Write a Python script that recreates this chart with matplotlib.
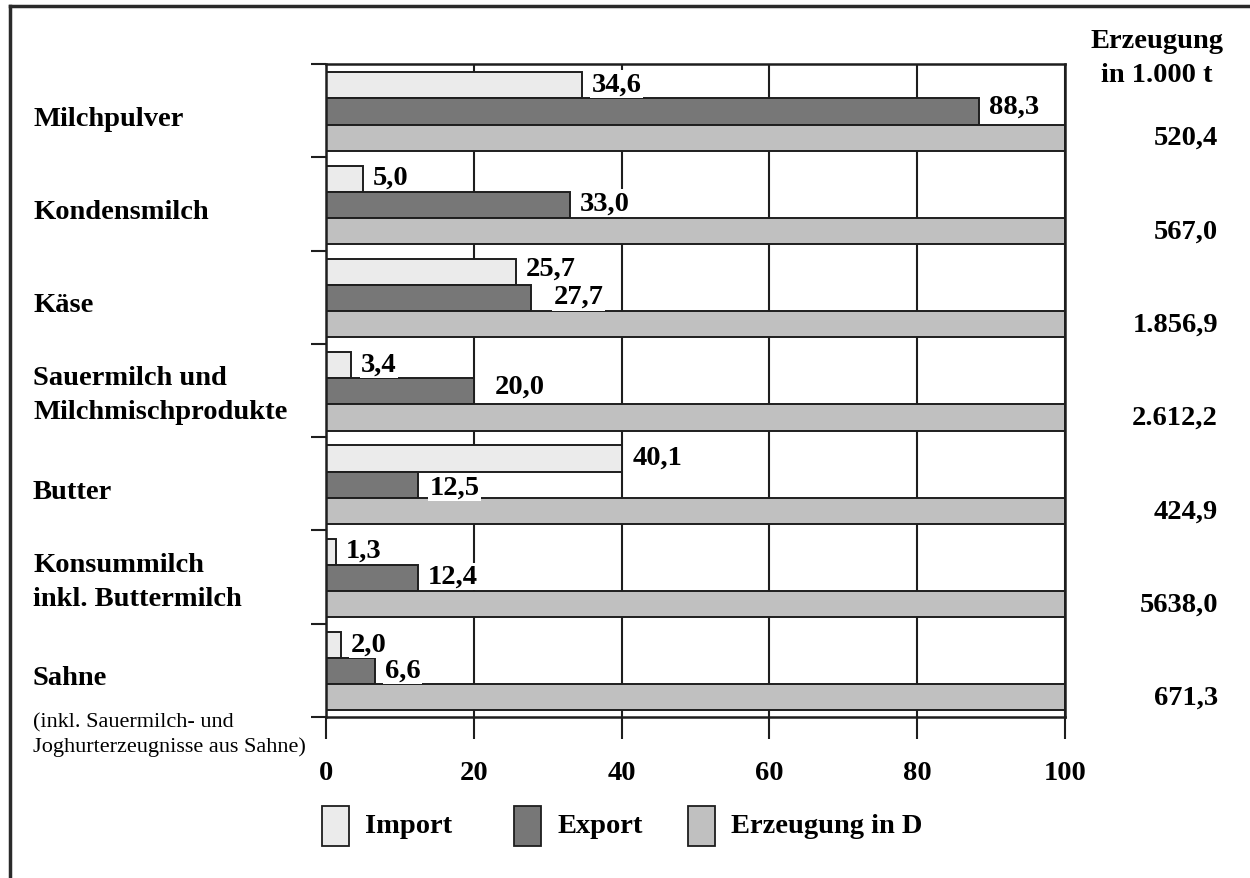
import matplotlib
matplotlib.use("Agg")
import matplotlib.pyplot as plt
from matplotlib.patches import Rectangle
from matplotlib.lines import Line2D

plt.rcParams['font.family'] = ['Liberation Serif', 'DejaVu Serif']

# --- data -------------------------------------------------------------
categories = ["Milchpulver", "Kondensmilch", "Käse",
              "Sauermilch und\nMilchmischprodukte", "Butter",
              "Konsummilch\ninkl. Buttermilch", "Sahne"]
import_pct = [34.6, 5.0, 25.7, 3.4, 40.1, 1.3, 2.0]
export_pct = [88.3, 33.0, 27.7, 20.0, 12.5, 12.4, 6.6]
erzeugung_pct = [100, 100, 100, 100, 100, 100, 100]
erzeugung_kt = ["520,4", "567,0", "1.856,9", "2.612,2", "424,9", "5638,0", "671,3"]
series_names = ["Import", "Export", "Erzeugung in D"]
x_ticks = [0, 20, 40, 60, 80, 100]
sahne_note = "(inkl. Sauermilch- und\nJoghurterzeugnisse aus Sahne)"
column_title = "Erzeugung\nin 1.000 t"

# --- style ------------------------------------------------------------
colors = ["#ebebeb", "#777777", "#c0c0c0"]
edge = "#1e1e1e"
W, H = 1250, 879
BOLD = dict(fontweight="bold", fontsize=20.5)

def fx(px):
    return px / W

def fy(py):
    return 1 - py / H

fig = plt.figure(figsize=(W / 100, H / 100), dpi=100)
ax = fig.add_axes([fx(326), fy(718), (1065 - 326) / W, (718 - 65) / H])

n = len(categories)
idx = list(range(n))
bar_h = 0.28
offsets = [0.229, 0.509, 0.789]
series = [import_pct, export_pct, erzeugung_pct]

for vals, off, col in zip(series, offsets, colors):
    ax.barh([i + off for i in idx], vals, height=bar_h, color=col,
            edgecolor=edge, linewidth=1.4, zorder=2)

ax.set_xlim(0, 100)
ax.set_ylim(n, 0)
ax.set_xticks(x_ticks)
ax.set_xticklabels([str(t) for t in x_ticks], **BOLD)
ax.set_yticks(range(n + 1))
ax.set_yticklabels([])
ax.tick_params(axis="x", length=16, width=1.5, color=edge, pad=15, direction="out")
ax.tick_params(axis="y", length=11, width=1.5, color=edge, direction="out")
ax.grid(axis="x", color=edge, linewidth=1.5, zorder=0)
ax.set_axisbelow(True)
for sp in ax.spines.values():
    sp.set_color(edge)
    sp.set_linewidth(1.8)

# value labels next to the import / export bars (nudges in points)
nudge = {(1, 0): (7.2, 4), (1, 2): (16.5, 1), (1, 3): (15, 4), (0, 2): (7.2, 3),
         (1, 4): (8, -2)}
for s, vals in enumerate([import_pct, export_pct]):
    for i, v in enumerate(vals):
        dx, dy = nudge.get((s, i), (7.2, 1))
        ax.annotate(f"{v:.1f}".replace(".", ","), xy=(v, i + offsets[s]),
                    xytext=(dx, dy), textcoords="offset points",
                    ha="left", va="center", zorder=5,
                    bbox=dict(boxstyle="square,pad=0.05", fc="white", ec="none"),
                    **BOLD)

# category names on the left
for i, name in enumerate(categories):
    dy = -5.5 if "\n" not in name else -3
    ax.annotate(name, xy=(fx(33), i + 0.5), xycoords=("figure fraction", "data"),
                xytext=(0, dy), textcoords="offset points",
                ha="left", va="center", linespacing=1.45, **BOLD)
ax.annotate(sahne_note, xy=(fx(33), n - 1 + 0.5), xycoords=("figure fraction", "data"),
            xytext=(0, -30), textcoords="offset points",
            ha="left", va="top", fontsize=16, linespacing=1.35)

# production column on the right
fig.text(fx(1157), fy(58.5), column_title, ha="center", va="center",
         linespacing=1.5, **BOLD)
for i, val in enumerate(erzeugung_kt):
    ax.annotate(val, xy=(fx(1218), i + offsets[2]), xycoords=("figure fraction", "data"),
                ha="right", va="center", **BOLD)

# legend
legend_x = [322, 514, 688]
for name, col, x0 in zip(series_names, colors, legend_x):
    fig.add_artist(Rectangle((fx(x0), fy(847)), 27 / W, 40 / H,
                             transform=fig.transFigure, facecolor=col,
                             edgecolor=edge, linewidth=1.3))
    fig.text(fx(x0 + 43), fy(827), name, ha="left", va="center", **BOLD)

# outer frame
fig.add_artist(Line2D([fx(9.5), fx(9.5)], [0, fy(7)], transform=fig.transFigure,
                      color="#2a2a2a", linewidth=2.5))
fig.add_artist(Line2D([fx(9.5), 1], [fy(7), fy(7)], transform=fig.transFigure,
                      color="#2a2a2a", linewidth=2.5))

fig.savefig("out.png", dpi=100, facecolor="white")
